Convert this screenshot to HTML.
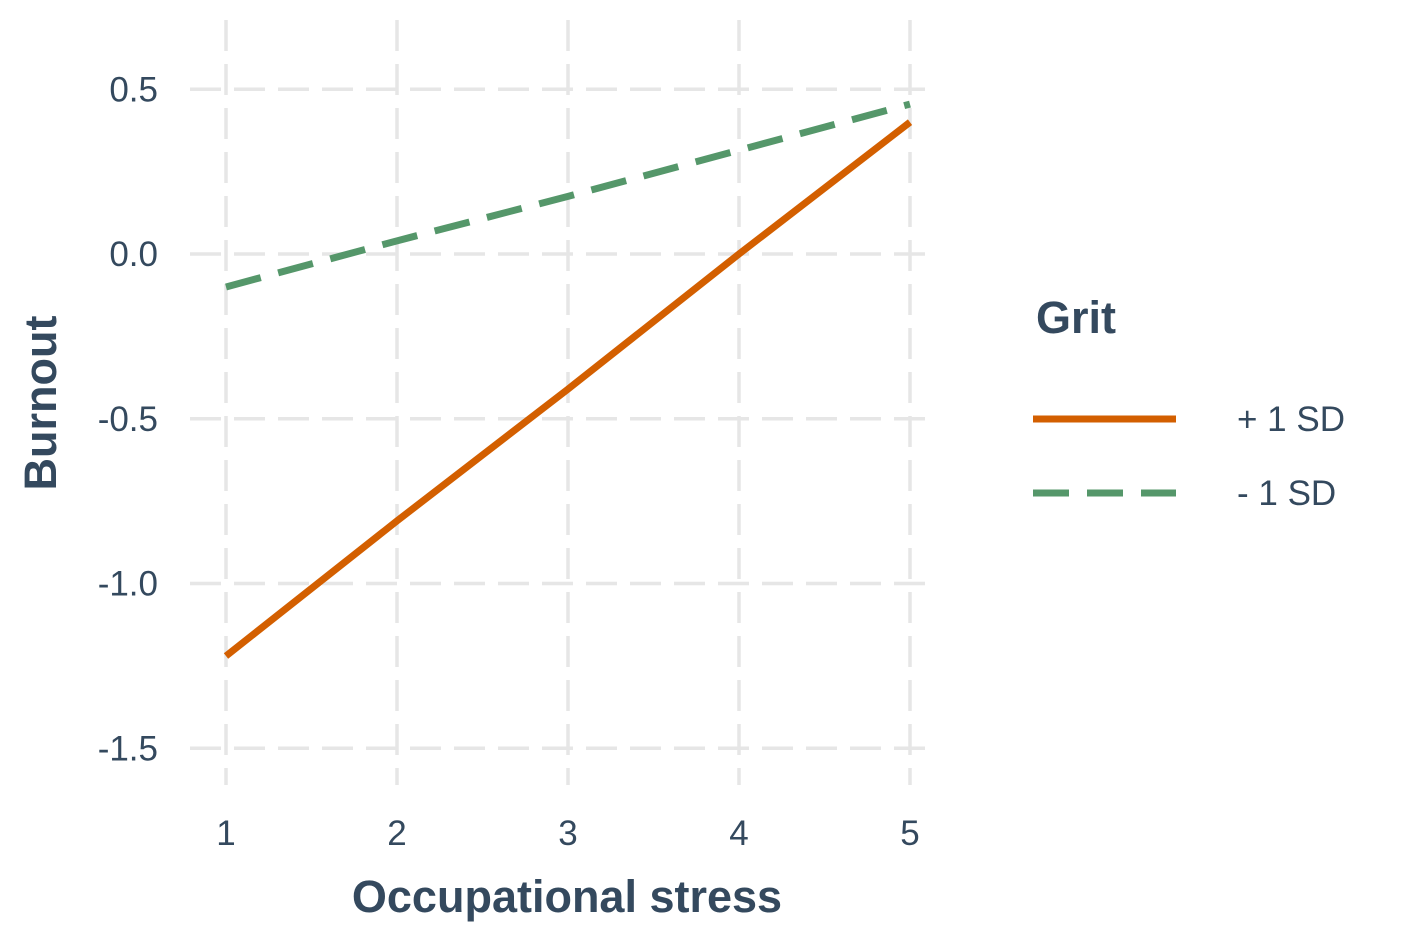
<!DOCTYPE html>
<html><head><meta charset="utf-8"><style>
body{margin:0;background:#fff}
svg text{font-family:"Liberation Sans",Arial,sans-serif;fill:#34495e}
</style></head><body>
<svg id="chart" width="1417" height="944" viewBox="0 0 1417 944">
<g id="grid"></g>
<g id="yticks"></g>
<g id="xticks"></g>
<g id="series"></g>
<text x="567" y="912" font-size="45" font-weight="bold" text-anchor="middle">Occupational stress</text>
<text transform="translate(56,403) rotate(-90)" font-size="45" font-weight="bold" text-anchor="middle">Burnout</text>
<g>
<text x="1036" y="333" font-size="45" font-weight="bold">Grit</text>
<line x1="1033" y1="419" x2="1176" y2="419" stroke="#d35f00" stroke-width="7"/>
<text x="1237" y="431" font-size="35">+ 1 SD</text>
<line x1="1033" y1="493" x2="1176" y2="493" stroke="#55976a" stroke-width="7" stroke-dasharray="36 18"/>
<text x="1237" y="505" font-size="35">- 1 SD</text>
</g>
</svg>
<script>
const xCats=[1,2,3,4,5];
const plusSD=[-1.22,-0.81,-0.41,0.0,0.40];
const minusSD=[-0.10,0.04,0.175,0.315,0.455];
const yTicks=[0.5,0.0,-0.5,-1.0,-1.5];
const yTickLabels=["0.5","0.0","-0.5","-1.0","-1.5"];
const xTickLabels=["1","2","3","4","5"];
const NS="http://www.w3.org/2000/svg";
function sx(v){return 226+(v-1)*171;}
function sy(v){return 254-v*329.5;}
function mk(t,a,p){const e=document.createElementNS(NS,t);for(const k in a)e.setAttribute(k,a[k]);p.appendChild(e);return e;}
const grid=document.getElementById('grid');
yTicks.forEach((v,i)=>{
 const l=mk('line',{x1:190,x2:935,y1:sy(v),y2:sy(v),stroke:'#e6e6e6','stroke-width':3.5,'stroke-dasharray':'31 13'},grid);
 
 
 const t=mk('text',{x:158,y:sy(v)+12,'font-size':35,'text-anchor':'end'},document.getElementById('yticks'));
 t.textContent=yTickLabels[i];
 
 
});
xCats.forEach((v,i)=>{
 const l=mk('line',{x1:sx(v),x2:sx(v),y1:20,y2:785,stroke:'#e6e6e6','stroke-width':3.5,'stroke-dasharray':'31 13'},grid);
 
 
 const t=mk('text',{x:sx(v),y:845,'font-size':35,'text-anchor':'middle'},document.getElementById('xticks'));
 t.textContent=xTickLabels[i];
 
 
});
const ser=document.getElementById('series');
const p1=mk('polyline',{points:xCats.map((x,i)=>sx(x)+','+sy(plusSD[i])).join(' '),fill:'none',stroke:'#d35f00','stroke-width':7},ser);


const p2=mk('polyline',{points:xCats.map((x,i)=>sx(x)+','+sy(minusSD[i])).join(' '),fill:'none',stroke:'#55976a','stroke-width':7,'stroke-dasharray':'36 18'},ser);


</script>
</body></html>
